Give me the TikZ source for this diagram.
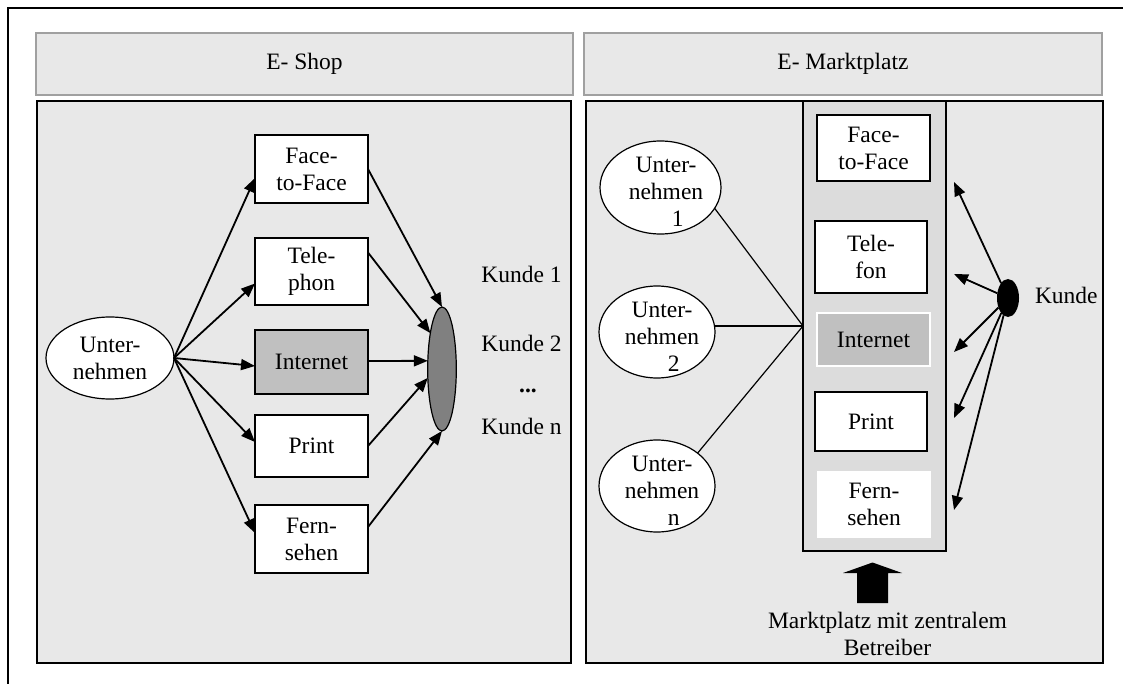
\documentclass[tikz,border=0pt]{standalone}
\usepackage{fontspec}
\setmainfont{Liberation Serif}
\usetikzlibrary{arrows.meta,shapes.geometric,calc}
\definecolor{panel}{HTML}{E8E8E8}
\definecolor{column}{HTML}{DCDCDC}
\definecolor{netgray}{HTML}{C0C0C0}
\definecolor{hubgray}{HTML}{808080}
\definecolor{headline}{HTML}{A0A0A0}
\begin{document}
\begin{tikzpicture}[x=1pt,y=-1pt,
  every node/.style={font=\fontsize{23.5}{27}\selectfont, inner sep=0pt, outer sep=0pt, align=center},
  header/.style={draw=headline, line width=1.6pt, fill=panel, minimum height=62pt},
  body/.style={draw=black, line width=1.5pt, fill=panel, minimum height=562pt},
  chan/.style={draw=black, line width=1.3pt, fill=white},
  firm/.style={ellipse, draw=black, line width=1.2pt, fill=white},
  arr/.style={line width=1.8pt, -{Triangle[length=14pt,width=11pt]}},
  link/.style={line width=1.2pt},
]
\useasboundingbox (0,0) rectangle (1123,684);

% outer frame
\draw[line width=2pt] (8,690) -- (8,8) -- (1130,8);

% headers and panels
\node[header, minimum width=537pt] (hshop) at (304.5,64) {E- Shop};
\node[header, minimum width=518pt] (hmarkt) at (843,64) {E- Marktplatz};
\node[body, minimum width=534pt] (bshop) at (304,382) {};
\node[body, minimum width=517pt] (bmarkt) at (844.5,382) {};

% ---------- E-Shop ----------
\node[firm, minimum width=128pt, minimum height=82pt] (u) at (110,358) {};
\node (ut) at (110,358) {Unter-\\nehmen};

\node[chan, minimum width=113pt, minimum height=68pt] (ftf) at (311.5,169) {Face-\\to-Face};
\node[chan, minimum width=113pt, minimum height=67pt] (tel) at (311.5,271.5) {Tele-\\phon};
\node[chan, fill=netgray, minimum width=113pt, minimum height=64pt] (inet) at (311.5,362) {Internet};
\node[chan, minimum width=113pt, minimum height=62pt] (print) at (311.5,446) {Print};
\node[chan, minimum width=113pt, minimum height=68pt] (fern) at (311.5,539) {Fern-\\sehen};

\node[ellipse, draw=black, line width=1.2pt, fill=hubgray, minimum width=28.6pt, minimum height=124pt] (ce) at (442,369) {};

\node[anchor=base] (k1) at (521.5,283) {Kunde 1};
\node[anchor=base] (k2) at (521.5,351) {Kunde 2};
\node[anchor=base] (kdots) at (528,392) {\textbf{...}};
\node[anchor=base] (kn) at (521.5,434) {Kunde n};

\draw[arr] (u.east) -- ([yshift=-9pt]ftf.west);
\draw[arr] (u.east) -- ([yshift=-12pt]tel.west);
\draw[arr] (u.east) -- ([yshift=-4pt]inet.west);
\draw[arr] (u.east) -- ([yshift=4pt]print.west);
\draw[arr] (u.east) -- ([yshift=6pt]fern.west);

\draw[arr] (ftf.east) -- (ce.north);
\draw[arr] ([yshift=19pt]tel.east) -- (ce.108);
\draw[arr] ([yshift=1pt]inet.east) -- (ce.150);
\draw[arr] (print.east) -- (ce.212);
\draw[arr] ([yshift=12pt]fern.east) -- (ce.south);

% ---------- E-Marktplatz ----------
\node[draw=black, line width=1.4pt, fill=column, minimum width=143pt, minimum height=450pt] (col) at (874.5,326) {};

\node[chan, minimum width=113pt, minimum height=66pt] (rftf) at (873.5,148) {Face-\\to-Face};
\node[chan, minimum width=112pt, minimum height=72pt] (rtel) at (871,257) {Tele-\\fon};
\node[draw=white, line width=1.3pt, fill=netgray, minimum width=113pt, minimum height=53pt] (rinet) at (873.5,339.5) {Internet};
\node[chan, minimum width=112pt, minimum height=59pt] (rprint) at (871,421.5) {Print};
\node[fill=white, minimum width=114pt, minimum height=67pt] (rfern) at (874,504.5) {Fern-\\sehen};

\node[firm, minimum width=121pt, minimum height=93pt] (u1) at (660.5,187.5) {};
\node (u1t) at (666,192) {Unter-\\nehmen\\\hspace*{1em}1};
\node[firm, minimum width=116pt, minimum height=92pt] (u2) at (657,332) {};
\node (u2t) at (662,337) {Unter-\\nehmen\\\hspace*{1em}2};
\node[firm, minimum width=116pt, minimum height=92pt] (un) at (657,486) {};
\node (unt) at (662,491) {Unter-\\nehmen\\\hspace*{1em}n};

\draw[link] (col.west) -- (u1.-21);
\draw[link] (col.west) -- (u2.east |- col.west);
\draw[link] (col.west) -- (un.39);

\node[ellipse, fill=black, minimum width=22pt, minimum height=38pt] (kd) at (1008,298) {};
\node[anchor=base west] (kunde) at (1035,303) {Kunde};

\coordinate (t1) at (954,182);
\coordinate (t2) at (954,274);
\coordinate (t3) at (954,352);
\coordinate (t4) at (954,418);
\coordinate (t5) at (954,510);
\foreach \t in {t1,t2,t3,t4,t5} \draw[arr] (kd) -- (\t);

% operator arrow
\fill (857,603) -- (857,573) -- (843,573) -- (872.5,562.5) -- (902,573) -- (888,573) -- (888,603) -- cycle;
\node (op) at (887.5,634) {Marktplatz mit zentralem\\Betreiber};
\end{tikzpicture}
\end{document}
